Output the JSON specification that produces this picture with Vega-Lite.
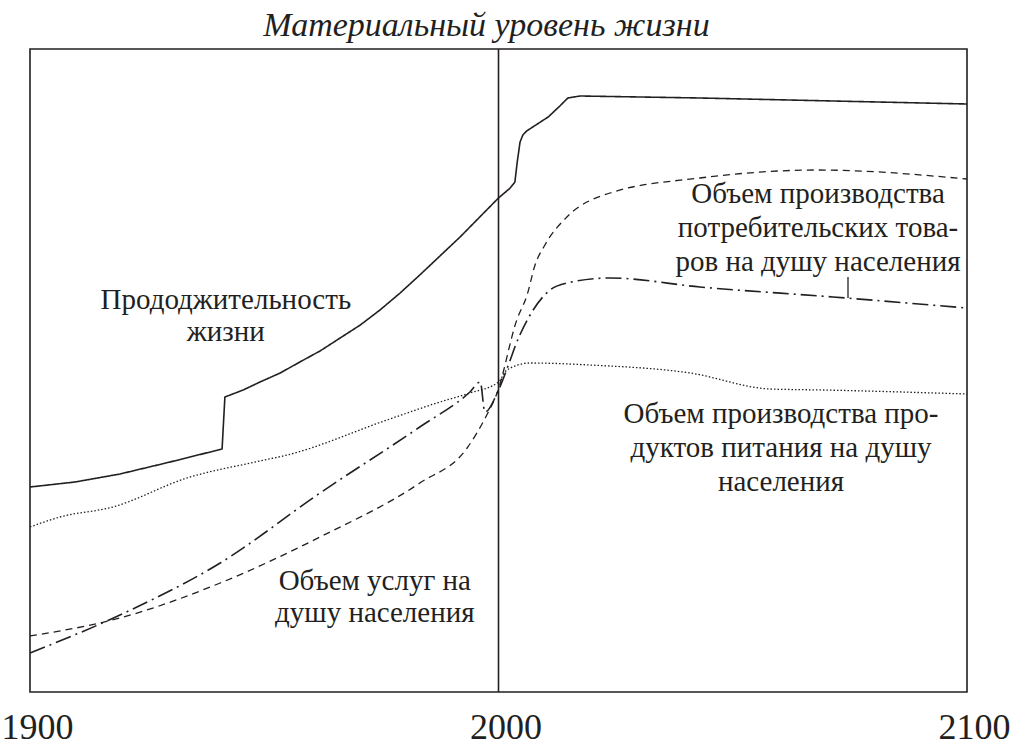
{
  "$schema": "https://vega.github.io/schema/vega-lite/v6.json",
  "width": 937,
  "height": 643,
  "autosize": {"type": "none"},
  "padding": {"left": 30, "top": 49, "right": 45, "bottom": 53},
  "title": {"text": "Материальный уровень жизни", "font": "Liberation Serif", "fontStyle": "italic", "fontWeight": "normal", "fontSize": 34, "color": "#231f20", "offset": 5, "dx": -12, "anchor": "middle"},
  "config": {"view": {"stroke": "#231f20", "strokeWidth": 1.6}, "font": "Liberation Serif"},
  "datasets": {
    "series": [
      {"s": "life", "year": 1900, "v": 205}, {"s": "life", "year": 1909.6, "v": 210}, {"s": "life", "year": 1919.2, "v": 218}, {"s": "life", "year": 1929.9, "v": 230}, {"s": "life", "year": 1941.0, "v": 243}, {"s": "life", "year": 1941.6, "v": 295}, {"s": "life", "year": 1945.5, "v": 302}, {"s": "life", "year": 1949.1, "v": 310}, {"s": "life", "year": 1953.4, "v": 319}, {"s": "life", "year": 1957.6, "v": 330}, {"s": "life", "year": 1961.9, "v": 341}, {"s": "life", "year": 1966.2, "v": 354}, {"s": "life", "year": 1970.5, "v": 367}, {"s": "life", "year": 1974.7, "v": 382}, {"s": "life", "year": 1979.0, "v": 399}, {"s": "life", "year": 1983.2, "v": 417}, {"s": "life", "year": 1987.5, "v": 436}, {"s": "life", "year": 1991.8, "v": 455}, {"s": "life", "year": 1996.0, "v": 475}, {"s": "life", "year": 2000, "v": 494}, {"s": "life", "year": 2002.5, "v": 504}, {"s": "life", "year": 2003.5, "v": 510}, {"s": "life", "year": 2004.0, "v": 530}, {"s": "life", "year": 2004.6, "v": 550}, {"s": "life", "year": 2005.2, "v": 557}, {"s": "life", "year": 2006.0, "v": 561}, {"s": "life", "year": 2010.6, "v": 575}, {"s": "life", "year": 2013.1, "v": 586}, {"s": "life", "year": 2014.8, "v": 594}, {"s": "life", "year": 2017.4, "v": 596}, {"s": "life", "year": 2043, "v": 594}, {"s": "life", "year": 2100, "v": 588},
      {"s": "food", "year": 1900, "v": 165}, {"s": "food", "year": 1906.4, "v": 175}, {"s": "food", "year": 1917.7, "v": 185}, {"s": "food", "year": 1933.5, "v": 214}, {"s": "food", "year": 1949.1, "v": 231}, {"s": "food", "year": 1954.9, "v": 237}, {"s": "food", "year": 1976.2, "v": 272}, {"s": "food", "year": 1987.5, "v": 290}, {"s": "food", "year": 1993.9, "v": 299}, {"s": "food", "year": 2000, "v": 310}, {"s": "food", "year": 2001.8, "v": 322}, {"s": "food", "year": 2006.7, "v": 329}, {"s": "food", "year": 2019.5, "v": 327}, {"s": "food", "year": 2040.9, "v": 319}, {"s": "food", "year": 2058.0, "v": 303}, {"s": "food", "year": 2069.3, "v": 302}, {"s": "food", "year": 2100, "v": 298},
      {"s": "services", "year": 1900, "v": 39}, {"s": "services", "year": 1919.2, "v": 77}, {"s": "services", "year": 1940.6, "v": 129}, {"s": "services", "year": 1961.9, "v": 199}, {"s": "services", "year": 1983.2, "v": 265}, {"s": "services", "year": 1993.9, "v": 300}, {"s": "services", "year": 1996.1, "v": 310}, {"s": "services", "year": 1997.1, "v": 280}, {"s": "services", "year": 2000, "v": 302}, {"s": "services", "year": 2002.5, "v": 332}, {"s": "services", "year": 2003.5, "v": 345}, {"s": "services", "year": 2007.4, "v": 382}, {"s": "services", "year": 2011.0, "v": 402}, {"s": "services", "year": 2014.6, "v": 409}, {"s": "services", "year": 2023.8, "v": 414}, {"s": "services", "year": 2043.0, "v": 405}, {"s": "services", "year": 2071.4, "v": 395}, {"s": "services", "year": 2100, "v": 384},
      {"s": "goods", "year": 1900, "v": 56}, {"s": "goods", "year": 1919.2, "v": 74}, {"s": "goods", "year": 1940.6, "v": 109}, {"s": "goods", "year": 1961.9, "v": 155}, {"s": "goods", "year": 1983.2, "v": 209}, {"s": "goods", "year": 1993.3, "v": 244}, {"s": "goods", "year": 1997.5, "v": 277}, {"s": "goods", "year": 1999.7, "v": 299}, {"s": "goods", "year": 2003.9, "v": 372}, {"s": "goods", "year": 2006.1, "v": 397}, {"s": "goods", "year": 2007.8, "v": 427}, {"s": "goods", "year": 2009.9, "v": 447}, {"s": "goods", "year": 2014.6, "v": 475}, {"s": "goods", "year": 2023.8, "v": 499}, {"s": "goods", "year": 2043.0, "v": 514}, {"s": "goods", "year": 2068.0, "v": 522}, {"s": "goods", "year": 2100, "v": 513}
    ],
    "labels": [
      {"t": "Прододжительность", "year": 1941.8, "v": 383},
      {"t": "жизни", "year": 1941.8, "v": 351},
      {"t": "Объем производства", "year": 2068.2, "v": 489},
      {"t": "потребительских това-", "year": 2068.2, "v": 455},
      {"t": "ров на душу населения", "year": 2068.2, "v": 421},
      {"t": "Объем производства про-", "year": 2060.3, "v": 269},
      {"t": "дуктов питания на душу", "year": 2060.3, "v": 235},
      {"t": "населения", "year": 2060.3, "v": 201},
      {"t": "Объем услуг на", "year": 1973.6, "v": 102},
      {"t": "душу населения", "year": 1973.6, "v": 70}
    ],
    "rules": [
      {"year": 2000, "v": 0, "v2": 643, "w": "main"},
      {"year": 2074.6, "v": 394, "v2": 415, "w": "leader"}
    ]
  },
  "encoding": {
    "x": {"field": "year", "type": "quantitative", "scale": {"domain": [1900, 2100], "nice": false, "zero": false},
      "axis": {"values": [1900, 2000, 2100], "format": "d", "title": null, "grid": false, "ticks": false, "domain": false, "labelFont": "Liberation Serif", "labelFontSize": 36, "labelColor": "#231f20", "labelPadding": 11, "labelFlush": false, "labelAlign": "center", "translate": 7.5}},
    "y": {"field": "v", "type": "quantitative", "scale": {"domain": [0, 643], "nice": false, "zero": false}, "axis": null}
  },
  "layer": [
    {
      "data": {"name": "rules"},
      "mark": {"type": "rule", "color": "#231f20"},
      "encoding": {
        "y2": {"field": "v2"},
        "strokeWidth": {"field": "w", "type": "nominal", "scale": {"type": "ordinal", "domain": ["main", "leader"], "range": [1.6, 1.3]}, "legend": null}
      }
    },
    {
      "data": {"name": "series"},
      "transform": [{"filter": "datum.s === 'life'"}],
      "mark": {"type": "line", "color": "#231f20", "interpolate": "linear", "strokeJoin": "round"},
      "encoding": {
        "detail": {"field": "s", "type": "nominal"},
        "strokeDash": {"field": "s", "type": "nominal", "scale": {"domain": ["life", "goods", "services", "food"], "range": [[1, 0], [7, 5], [16, 5, 2, 5], [1.5, 2]]}, "legend": null},
        "strokeWidth": {"field": "s", "type": "nominal", "scale": {"type": "ordinal", "domain": ["life", "goods", "services", "food"], "range": [1.6, 1.4, 1.4, 1.2]}, "legend": null}
      }
    },
    {
      "data": {"name": "series"},
      "transform": [{"filter": "datum.s !== 'life'"}],
      "mark": {"type": "line", "color": "#231f20", "interpolate": "monotone"},
      "encoding": {
        "detail": {"field": "s", "type": "nominal"},
        "strokeDash": {"field": "s", "type": "nominal", "scale": {"domain": ["life", "goods", "services", "food"], "range": [[1, 0], [7, 5], [16, 5, 2, 5], [1.5, 2]]}, "legend": null},
        "strokeWidth": {"field": "s", "type": "nominal", "scale": {"type": "ordinal", "domain": ["life", "goods", "services", "food"], "range": [1.6, 1.4, 1.4, 1.2]}, "legend": null}
      }
    },
    {
      "data": {"name": "labels"},
      "mark": {"type": "text", "font": "Liberation Serif", "fontSize": 29, "color": "#231f20", "align": "center", "baseline": "alphabetic"},
      "encoding": {"text": {"field": "t", "type": "nominal"}}
    }
  ]
}
